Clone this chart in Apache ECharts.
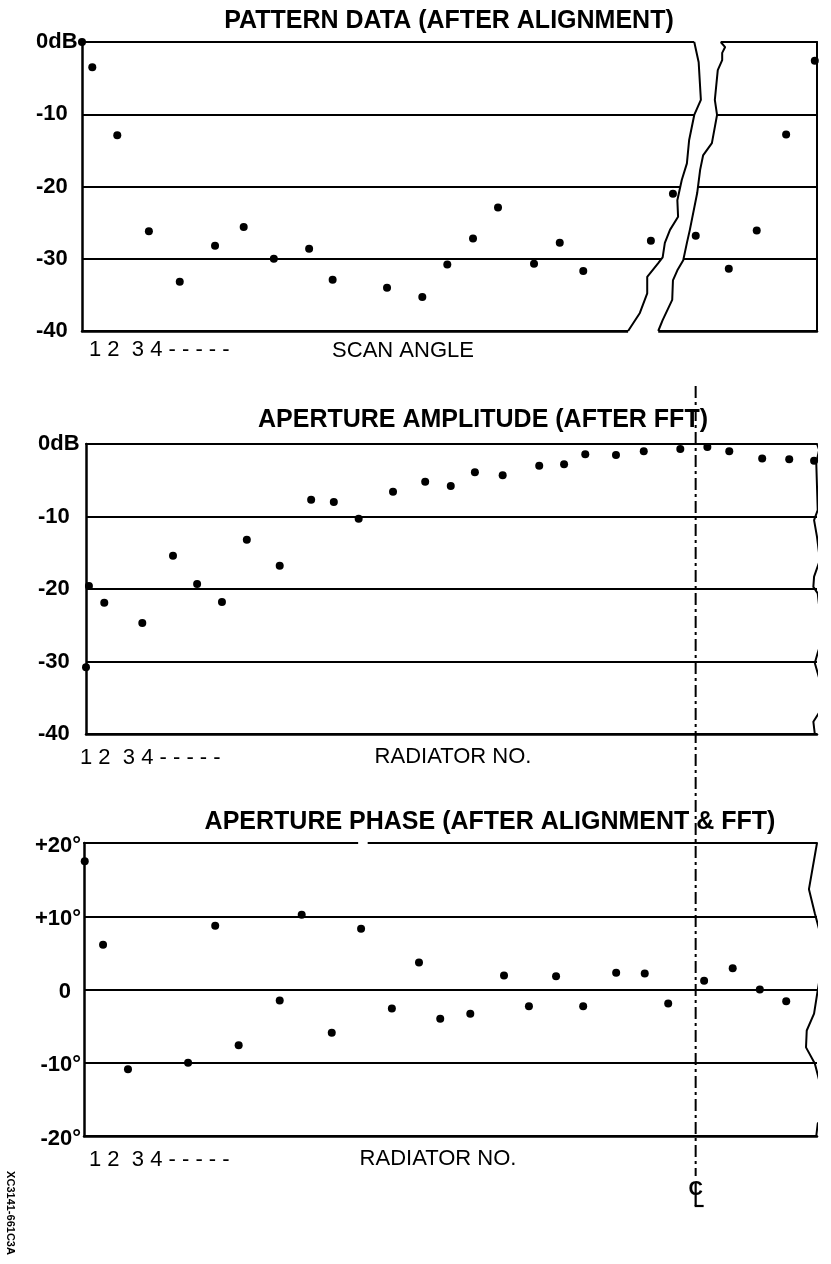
<!DOCTYPE html>
<html>
<head>
<meta charset="utf-8">
<script src="https://cdn.jsdelivr.net/npm/echarts@6/dist/echarts.min.js"></script>
<style>
  html, body { margin: 0; padding: 0; background: #fff; }
  #chart { width: 831px; height: 1264px; }
</style>
</head>
<body>
<div id="chart"></div>
<script>
// ---- Pattern data (after alignment): scan-angle position vs. level in dB ----
const scanAngle = [0, 1.4, 4.8, 9.1, 13.3, 18.1, 22.0, 26.1, 30.9, 34.1, 41.5, 46.3, 49.7,
  53.2, 56.6, 61.5, 65.0, 68.2, 77.4, 80.4, 83.5, 88.0, 91.8, 95.8, 99.7];
const patternDb = [0, -3.5, -12.9, -26.2, -33.2, -28.2, -25.6, -30.0, -28.6, -32.9, -34.0, -35.3, -30.8,
  -27.2, -22.9, -30.7, -27.8, -31.7, -27.5, -21.0, -26.8, -31.4, -26.1, -12.8, -2.6];

// ---- Aperture amplitude (after FFT): radiator position vs. dB ----
const ampPos = [0, 0.4, 2.5, 7.7, 11.9, 15.2, 18.6, 22.0, 26.5, 30.8, 33.9, 37.3, 42.0, 46.4,
  49.9, 53.2, 57.0, 62.0, 65.4, 68.3, 72.5, 76.3, 81.3, 85.0, 88.0, 92.5, 96.2, 99.6];
const ampDb = [-30.8, -19.6, -21.9, -24.7, -15.4, -19.3, -21.8, -13.2, -16.8, -7.7, -8.0, -10.3, -6.6, -5.2,
  -5.8, -3.9, -4.3, -3.0, -2.8, -1.4, -1.5, -1.0, -0.7, -0.4, -1.0, -2.0, -2.1, -2.3];

// ---- Aperture phase (after alignment & FFT): radiator position vs. degrees ----
const phasePos = [0.1, 2.6, 6.0, 14.2, 17.9, 21.1, 26.7, 29.7, 33.8, 37.8, 42.0, 45.7, 48.6,
  52.7, 57.3, 60.7, 64.4, 68.1, 72.6, 76.5, 79.7, 84.6, 88.5, 92.2, 95.8];
const phaseDeg = [17.5, 6.1, -10.9, -10.0, 8.7, -7.6, -1.5, 10.2, -5.9, 8.3, -2.6, 3.7, -4.0,
  -3.3, 1.9, -2.3, 1.8, -2.3, 2.3, 2.2, -1.9, 1.2, 2.9, 0.0, -1.6];

// ---- Tick labels ----
const dbTickLabels = ['0dB', '-10', '-20', '-30', '-40'];
const phaseTickLabels = ['+20°', '+10°', '0', '-10°', '-20°'];
const indexTicks = '1 2  3 4 - - - - -';

// Centre-line position along the aperture (radiator axis units)
const centreLine = 83.4;

// ---- Frame outlines (axis units) ----
// torn break in the scan-angle plot: left and right edges of the gap
const breakLeft = [[83.3, 0], [83.9, -2.8], [84.2, -8.0], [83.3, -10.1], [82.6, -13.6], [82.3, -16.8],
  [81.6, -19.1], [81.0, -21.9], [81.1, -24.2], [80.0, -26.0], [79.3, -27.8], [79.0, -29.8],
  [78.4, -30.6], [76.9, -32.5], [76.9, -34.8], [75.9, -37.5], [74.3, -40]];
const breakRight = [[86.9, 0], [87.5, -0.7], [87.1, -1.5], [87.1, -2.5], [86.5, -3.9], [86.1, -8.0],
  [86.4, -10.1], [85.7, -14.0], [84.5, -15.7], [84.1, -17.7], [83.7, -20.9], [82.7, -26.0],
  [82.3, -27.8], [81.8, -30.2], [81.0, -31.6], [80.4, -33.0], [80.3, -35.7], [79.0, -38.5], [78.4, -40]];
// wavy cut-off edges on the right of the aperture plots
const ampEdge = [[100.0, 0], [100.3, -0.8], [99.9, -2.6], [100, -5.9], [100.1, -9.1], [99.6, -10.5],
  [100, -12.8], [100.4, -16.0], [99.6, -18.3], [99.5, -19.7], [100.1, -20.6], [100.4, -23.3],
  [100.8, -26.6], [100.1, -28.8], [99.7, -30.2], [100.1, -31.6], [101.0, -34.9], [100.5, -36.7],
  [99.5, -38.3], [99.7, -40]];
const phaseEdge = [[100, 20], [98.9, 13.7], [99.7, 10.4], [100.7, 6.7], [100.8, 4.0], [100.1, -0.1],
  [99.6, -3.3], [98.6, -5.6], [98.5, -7.9], [99.7, -10.1], [100.4, -12.8], [101.9, -15.6],
  [101.5, -16.9], [100.1, -18.3], [99.9, -20]];
// small gap in the top rule of the phase plot
const phaseTopGap = [37.4, 38.7];

const FONT = '"Liberation Sans", Arial, Helvetica, sans-serif';
const INK = '#000';

function zip(xs, ys) { return xs.map((x, i) => [x, ys[i]]); }
function frameLine(data, xi, yi) {
  return {
    type: 'line', xAxisIndex: xi, yAxisIndex: yi, data: data, clip: false, silent: true,
    symbol: 'none', lineStyle: { color: INK, width: 2 }, z: 3, animation: false
  };
}
function dots(data, xi, yi) {
  return {
    type: 'scatter', xAxisIndex: xi, yAxisIndex: yi, data: data, clip: false,
    symbol: 'circle', symbolSize: 8, itemStyle: { color: INK, opacity: 1 }, z: 4, animation: false
  };
}
function bottomX(grid) {
  return {
    gridIndex: grid, type: 'value', min: 0, max: 100, position: 'bottom',
    axisLine: { show: true, onZero: false, lineStyle: { color: INK, width: 2.5 } },
    axisTick: { show: false }, axisLabel: { show: false }, splitLine: { show: false }
  };
}
function topX(grid) {
  return {
    gridIndex: grid, type: 'value', min: 0, max: 100, position: 'top',
    axisLine: { show: true, onZero: false, lineStyle: { color: INK, width: 2 } },
    axisTick: { show: false }, axisLabel: { show: false }, splitLine: { show: false }
  };
}
const dbLabel = {
  show: true, align: 'left', verticalAlign: 'middle', padding: [7, 0, 0, 0],
  fontFamily: FONT, fontWeight: 'bold', fontSize: 22, color: INK,
  formatter: v => dbTickLabels[Math.round(-v / 10)]
};

const chart = echarts.init(document.getElementById('chart'), null, { renderer: 'canvas' });

chart.setOption({
  animation: false,
  backgroundColor: '#fff',
  grid: [
    { left: 82, top: 42, width: 735, height: 289 },
    { left: 86, top: 444, width: 731, height: 290 },
    { left: 84, top: 843, width: 733, height: 293 }
  ],
  xAxis: [bottomX(0), topX(0), bottomX(1), topX(1), bottomX(2), topX(2)],
  yAxis: [
    {
      gridIndex: 0, type: 'value', min: -40, max: 0, interval: 10, position: 'left',
      axisLine: { show: true, onZero: false, lineStyle: { color: INK, width: 2.5 } },
      axisTick: { show: false },
      axisLabel: Object.assign({}, dbLabel, { margin: 46 }),
      splitLine: { show: true, lineStyle: { color: INK, width: 2 } }
    },
    {
      gridIndex: 0, type: 'value', min: -40, max: 0, interval: 10, position: 'right',
      axisLine: { show: true, onZero: false, lineStyle: { color: INK, width: 2 } },
      axisTick: { show: false }, axisLabel: { show: false }, splitLine: { show: false }
    },
    {
      gridIndex: 1, type: 'value', min: -40, max: 0, interval: 10, position: 'left',
      axisLine: { show: true, onZero: false, lineStyle: { color: INK, width: 2.5 } },
      axisTick: { show: false },
      axisLabel: Object.assign({}, dbLabel, { margin: 48 }),
      splitLine: { show: true, lineStyle: { color: INK, width: 2 } }
    },
    {
      gridIndex: 2, type: 'value', min: -20, max: 20, interval: 10, position: 'left',
      axisLine: { show: true, onZero: false, lineStyle: { color: INK, width: 2.5 } },
      axisTick: { show: false },
      axisLabel: {
        show: true, align: 'right', verticalAlign: 'middle', margin: 3, padding: [5, 0, 0, 0],
        fontFamily: FONT, fontWeight: 'bold', fontSize: 22, color: INK,
        formatter: v => {
          const s = phaseTickLabels[Math.round((20 - v) / 10)];
          return s === '0' ? '{z|0}' : s;
        },
        rich: { z: { fontFamily: FONT, fontWeight: 'bold', fontSize: 22, color: INK, padding: [0, 10, 0, 0] } }
      },
      splitLine: { show: true, lineStyle: { color: INK, width: 2 } }
    }
  ],
  series: [
    // white gap of the torn break, drawn over rules and borders
    {
      type: 'custom', xAxisIndex: 0, yAxisIndex: 0, clip: false, silent: true, z: 2,
      data: [[0, 0]],
      renderItem: (params, api) => {
        const left = [[breakLeft[0][0], 0.3]].concat(breakLeft, [[breakLeft[breakLeft.length - 1][0], -40.3]]);
        const right = [[breakRight[0][0], 0.3]].concat(breakRight, [[breakRight[breakRight.length - 1][0], -40.3]]);
        const pts = left.map(p => api.coord(p)).concat(right.slice().reverse().map(p => api.coord(p)));
        return { type: 'polygon', shape: { points: pts }, style: { fill: '#fff', stroke: null } };
      }
    },
    frameLine(breakLeft, 0, 0),
    frameLine(breakRight, 0, 0),
    dots(zip(scanAngle, patternDb), 0, 0),

    frameLine(ampEdge, 2, 2),
    dots(zip(ampPos, ampDb), 2, 2),

    {
      type: 'custom', xAxisIndex: 4, yAxisIndex: 3, clip: false, silent: true, z: 2,
      data: [[0, 0]],
      renderItem: (params, api) => {
        const a = api.coord([phaseTopGap[0], 20]);
        const b = api.coord([phaseTopGap[1], 20]);
        return { type: 'rect', shape: { x: a[0], y: a[1] - 3, width: b[0] - a[0], height: 6 }, style: { fill: '#fff' } };
      }
    },
    frameLine(phaseEdge, 4, 3),
    dots(zip(phasePos, phaseDeg), 4, 3)
  ]
});

// ---- Texts and the centre line, placed from the axes ----
function text(t, x, y, size, weight, align, extra) {
  return Object.assign({
    type: 'text', x: x, y: y, silent: true, z: 10,
    style: {
      text: t, font: weight + ' ' + size + 'px ' + FONT, fill: INK,
      align: align, textAlign: align, verticalAlign: 'middle', textVerticalAlign: 'middle'
    }
  }, extra || {});
}

const bot1 = chart.convertToPixel({ yAxisIndex: 0 }, -40);
const bot2 = chart.convertToPixel({ yAxisIndex: 2 }, -40);
const bot3 = chart.convertToPixel({ yAxisIndex: 3 }, -20);
const top1 = chart.convertToPixel({ yAxisIndex: 0 }, 0);
const top2 = chart.convertToPixel({ yAxisIndex: 2 }, 0);
const top3 = chart.convertToPixel({ yAxisIndex: 3 }, 20);
const clX = chart.convertToPixel({ xAxisIndex: 2 }, centreLine);

// centre-line symbol: a C crossed by an L
const clSymbol = {
  type: 'group', x: clX, y: bot3 + 58, silent: true, z: 10,
  children: [
    { type: 'text', x: 0, y: -5, style: { text: 'C', font: 'bold 20px ' + FONT, fill: INK, align: 'center', verticalAlign: 'middle' } },
    { type: 'line', shape: { x1: 0, y1: -11, x2: 0, y2: 12 }, style: { stroke: INK, lineWidth: 2.2 } },
    { type: 'line', shape: { x1: -1, y1: 12, x2: 8, y2: 12 }, style: { stroke: INK, lineWidth: 2.2 } }
  ]
};

chart.setOption({
  graphic: [
    text('PATTERN DATA (AFTER ALIGNMENT)', 449, top1 - 21, 25, 'bold', 'center'),
    text(indexTicks, 89, bot1 + 19, 22, 'normal', 'left'),
    text('SCAN ANGLE', 403, bot1 + 20, 22, 'normal', 'center'),

    text('APERTURE AMPLITUDE (AFTER FFT)', 483, top2 - 24, 25, 'bold', 'center'),
    text(indexTicks, 80, bot2 + 24, 22, 'normal', 'left'),
    text('RADIATOR NO.', 453, bot2 + 23, 22, 'normal', 'center'),

    text('APERTURE PHASE (AFTER ALIGNMENT & FFT)', 490, top3 - 21, 25, 'bold', 'center'),
    text(indexTicks, 89, bot3 + 24, 22, 'normal', 'left'),
    text('RADIATOR NO.', 438, bot3 + 23, 22, 'normal', 'center'),

    {
      type: 'line', silent: true, z: 9,
      shape: { x1: clX, y1: top2 - 58, x2: clX, y2: bot3 + 40 },
      style: { stroke: INK, lineWidth: 2, lineDash: [12, 4, 3, 4] }
    },
    clSymbol,
    text('XC3141-661C3A', 10, 1213, 11, 'bold', 'center', { rotation: -Math.PI / 2 })
  ]
});
</script>
</body>
</html>
